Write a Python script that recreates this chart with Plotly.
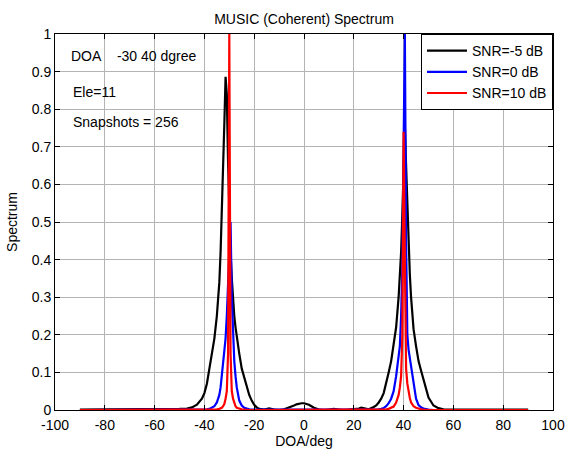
import plotly.graph_objs as go

# 角度グリッド（deg）
doa_deg = [
    -90, -80, -70, -60, -55, -50, -47, -45, -43, -41,
    -40, -39, -38, -37, -36, -35, -34, -33.5, -33, -32.5,
    -32, -31.5, -31, -30.5, -30, -29.5, -29, -28.5, -28, -27.5,
    -27, -26, -25, -24, -23, -22, -21, -20, -19, -18,
    -16, -14, -12, -10, -8, -6, -4, -3, -2, -1,
    0, 1, 2, 3, 4, 6, 8, 10, 12, 14,
    16, 18, 20, 22, 23, 24, 25, 26, 28, 29,
    30, 31, 32, 33, 34, 35, 36, 37, 38, 38.5,
    39, 39.5, 40, 40.5, 41, 41.5, 42, 42.5, 43, 44,
    45, 46, 47, 48, 49, 50, 52, 54, 56, 60,
    65, 70, 80, 90,
]

# SNR=-5 dB
spec_snr_m5 = [
    0.001, 0.001, 0.001, 0.002, 0.002, 0.003, 0.004, 0.007, 0.014, 0.03,
    0.045, 0.07, 0.11, 0.145, 0.19, 0.25, 0.34, 0.42, 0.52, 0.63,
    0.76, 0.886, 0.84, 0.66, 0.52, 0.42, 0.35, 0.29, 0.25, 0.22,
    0.195, 0.15, 0.11, 0.085, 0.06, 0.04, 0.025, 0.014, 0.007, 0.003,
    0.001, 0.004, 0.001, 0.0, 0.002, 0.006, 0.012, 0.015, 0.017, 0.018,
    0.018, 0.017, 0.014, 0.010, 0.006, 0.001, 0.0, 0.001, 0.003, 0.001,
    0.0, 0.001, 0.002, 0.004, 0.006, 0.005, 0.003, 0.002, 0.008, 0.012,
    0.02, 0.03, 0.045, 0.07, 0.10, 0.13, 0.17, 0.22, 0.30, 0.36,
    0.42, 0.52, 0.64, 0.76, 0.65, 0.53, 0.43, 0.36, 0.30, 0.215,
    0.17, 0.13, 0.105, 0.08, 0.055, 0.033, 0.012, 0.005, 0.002, 0.001,
    0.001, 0.001, 0.001, 0.001,
]

# SNR=0 dB
spec_snr_0 = [
    0, 0, 0, 0, 0, 0, 0, 0, 0, 0,
    0.001, 0.002, 0.003, 0.006, 0.01, 0.02, 0.04, 0.06, 0.09, 0.12,
    0.15, 0.19, 0.25, 0.33, 0.42, 0.50, 0.30, 0.20, 0.13, 0.09,
    0.06, 0.025, 0.012, 0.006, 0.003, 0.002, 0.001, 0.001, 0, 0,
    0, 0, 0, 0, 0, 0, 0.001, 0.001, 0.001, 0.001,
    0.001, 0.001, 0.001, 0, 0, 0, 0, 0, 0, 0,
    0, 0, 0, 0, 0, 0, 0, 0, 0.001, 0.002,
    0.002, 0.003, 0.005, 0.01, 0.018, 0.03, 0.05, 0.09, 0.14, 0.17,
    0.25, 0.38, 0.70, 1.0, 0.45, 0.20, 0.16, 0.14, 0.12, 0.08,
    0.03, 0.013, 0.007, 0.004, 0.002, 0.001, 0, 0, 0, 0,
    0, 0, 0, 0,
]

# SNR=10 dB
spec_snr_10 = [
    0, 0, 0, 0, 0, 0, 0, 0, 0, 0,
    0, 0, 0, 0, 0.001, 0.002, 0.003, 0.004, 0.006, 0.01,
    0.016, 0.03, 0.05, 0.15, 1.0, 0.15, 0.05, 0.03, 0.016, 0.01,
    0.006, 0.003, 0.002, 0.001, 0, 0, 0, 0, 0, 0,
    0, 0, 0, 0, 0, 0, 0, 0, 0, 0,
    0, 0, 0, 0, 0, 0, 0, 0, 0, 0,
    0, 0, 0, 0, 0, 0, 0, 0, 0, 0,
    0, 0, 0.001, 0.002, 0.003, 0.005, 0.009, 0.02, 0.04, 0.06,
    0.09, 0.2, 0.74, 0.4, 0.11, 0.07, 0.045, 0.032, 0.02, 0.01,
    0.006, 0.003, 0.002, 0.001, 0, 0, 0, 0, 0, 0,
    0, 0, 0, 0,
]

series_names = ["SNR=-5 dB", "SNR=0 dB", "SNR=10 dB"]
series_colors = ["#000000", "#0000ff", "#ff0000"]

x_ticks = [-100, -80, -60, -40, -20, 0, 20, 40, 60, 80, 100]
y_ticks = [0, 0.1, 0.2, 0.3, 0.4, 0.5, 0.6, 0.7, 0.8, 0.9, 1]

info_texts = ["DOA\u00a0\u00a0\u00a0 -30 40 dgree", "Ele=11", "Snapshots = 256"]

FONT = "Liberation Sans, Arial, sans-serif"
FS = 14

fig = go.Figure()

for name, ys, color in zip(series_names, [spec_snr_m5, spec_snr_0, spec_snr_10], series_colors):
    fig.add_trace(go.Scatter(
        x=doa_deg,
        y=ys,
        mode="lines",
        name=name,
        line=dict(color=color, width=2.2),
    ))

# 左上のテキスト
for txt, xx, yy in zip(info_texts, [-94.4, -93.6, -93.6], [0.942, 0.847, 0.765]):
    fig.add_annotation(
        x=xx, y=yy, xref="x", yref="y",
        text=txt, showarrow=False,
        xanchor="left", yanchor="middle",
        font=dict(family=FONT, size=FS, color="black"),
    )

axis_common = dict(
    showline=True,
    linecolor="black",
    linewidth=1,
    mirror="ticks",
    ticks="inside",
    ticklen=5,
    tickcolor="black",
    showgrid=True,
    gridcolor="#b4b4b4",
    gridwidth=1,
    zeroline=False,
    automargin=False,
    tickfont=dict(family=FONT, size=FS, color="black"),
)

fig.update_xaxes(
    range=[-100, 100],
    tickvals=x_ticks,
    ticktext=[str(v) for v in x_ticks],
    ticklabelstandoff=2,
    title=dict(text="DOA/deg", font=dict(family=FONT, size=FS, color="black"), standoff=0),
    **axis_common,
)
fig.update_yaxes(
    range=[0, 1],
    tickvals=y_ticks,
    ticktext=[f"{v:g}" for v in y_ticks],
    title=dict(text="Spectrum", font=dict(family=FONT, size=FS, color="black"), standoff=10),
    **axis_common,
)

fig.update_layout(
    width=569,
    height=450,
    paper_bgcolor="white",
    plot_bgcolor="white",
    margin=dict(l=55, r=16, t=34, b=40, autoexpand=False),
    title=dict(
        text="MUSIC (Coherent) Spectrum",
        x=0.5, xref="paper", xanchor="center",
        y=1 - 19 / 450, yref="container", yanchor="middle",
        font=dict(family=FONT, size=FS, color="black"),
    ),
    legend=dict(
        x=1, y=1, xanchor="right", yanchor="top",
        bgcolor="white", bordercolor="black", borderwidth=1,
        font=dict(family=FONT, size=FS, color="black"),
        tracegroupgap=0,
        itemwidth=40,
    ),
    showlegend=True,
)

# ページ既定の余白(8px)を消す
fig.write_html(
    "out.html",
    config={"displayModeBar": False},
    post_script="document.body.style.margin='0';",
)
